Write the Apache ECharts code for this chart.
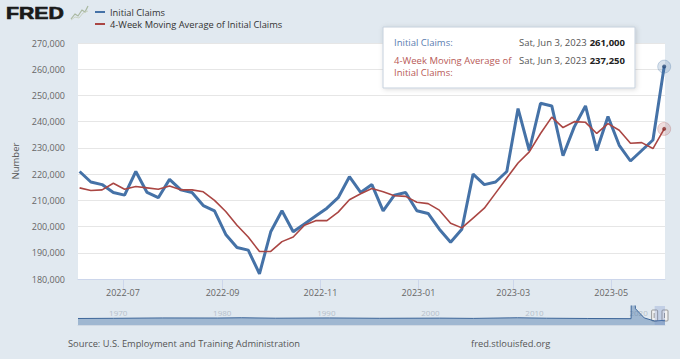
<!DOCTYPE html>
<html>
<head>
<meta charset="utf-8">
<script src="https://cdn.jsdelivr.net/npm/echarts@6/dist/echarts.min.js"></script>
<style>
html,body{margin:0;padding:0;background:#e1e9f0;}
#chart{width:680px;height:359px;}
</style>
</head>
<body>
<div id="chart"></div>
<script>
// ---- Data ----
const weekDates = ['2022-06-04','2022-06-11','2022-06-18','2022-06-25','2022-07-02','2022-07-09','2022-07-16','2022-07-23','2022-07-30',
'2022-08-06','2022-08-13','2022-08-20','2022-08-27','2022-09-03','2022-09-10','2022-09-17','2022-09-24','2022-10-01','2022-10-08',
'2022-10-15','2022-10-22','2022-10-29','2022-11-05','2022-11-12','2022-11-19','2022-11-26','2022-12-03','2022-12-10','2022-12-17',
'2022-12-24','2022-12-31','2023-01-07','2023-01-14','2023-01-21','2023-01-28','2023-02-04','2023-02-11','2023-02-18','2023-02-25',
'2023-03-04','2023-03-11','2023-03-18','2023-03-25','2023-04-01','2023-04-08','2023-04-15','2023-04-22','2023-04-29','2023-05-06',
'2023-05-13','2023-05-20','2023-05-27','2023-06-03'];
const initialClaims = [221000,217000,216000,213000,212000,221000,213000,211000,218000,214000,213000,208000,206000,197000,192000,191000,
182000,198000,206000,198000,201000,204000,207000,211000,219000,213000,216000,206000,212000,213000,206000,205000,199000,194000,199000,
220000,216000,217000,221000,245000,229000,247000,246000,227000,238000,246000,229000,242000,231000,225000,229000,233000,261000];
const movingAverage4Wk = [214750,213750,214000,216500,214250,215250,214750,214250,215500,214000,214000,213250,210000,205750,200500,196000,
190500,190500,194250,196000,200500,202250,202250,205500,210250,212500,214500,213250,211750,211500,209250,208750,206250,201250,199500,
203250,207000,212750,218500,224250,228500,235500,241750,237750,240000,239750,235500,239250,236750,231750,232000,229750,237250];
const monthTicks = ['2022-07-01','2022-09-01','2022-11-01','2023-01-01','2023-03-01','2023-05-01'];
const yTicks = [180000,190000,200000,210000,220000,230000,240000,250000,260000,270000];
// navigator (full history overview, thousands; read as a near-flat band with the 2020 spike)
const navDates = ['1967-01-07','1970-06-06','1975-03-01','1980-06-07','1982-10-02','1986-01-04','1991-03-02','1996-01-06','2001-10-06',
'2005-01-01','2009-03-28','2012-01-07','2016-01-02','2020-02-29','2020-03-28','2020-04-25','2020-08-01','2021-06-05','2022-06-04','2023-06-03'];
const navValues = [360,370,390,385,400,375,390,370,380,365,400,375,360,350,6137,3000,900,390,221,261];
const navYearTicks = ['1970-01-01','1980-01-01','1990-01-01','2000-01-01','2010-01-01','2020-01-01'];

const seriesNames = ['Initial Claims','4-Week Moving Average of Initial Claims'];
const FONT = '"Open Sans", sans-serif';

function utc(s){ const p = s.split('-').map(Number); return Date.UTC(p[0], p[1]-1, p[2]); }
function fmtNum(v){ return String(v).replace(/\B(?=(\d{3})+(?!\d))/g, ','); }
const DAYS = ['Sun','Mon','Tue','Wed','Thu','Fri','Sat'];
const MONTHS = ['Jan','Feb','Mar','Apr','May','Jun','Jul','Aug','Sep','Oct','Nov','Dec'];
function fmtDay(t){ const d = new Date(t); return DAYS[d.getUTCDay()] + ', ' + MONTHS[d.getUTCMonth()] + ' ' + d.getUTCDate() + ', ' + d.getUTCFullYear(); }

const xs = weekDates.map(utc);
const blueData = xs.map((t,i)=>[t, initialClaims[i]]);
const redData = xs.map((t,i)=>[t, movingAverage4Wk[i]]);
const last = xs.length - 1;
const navData = navDates.map((d,i)=>[utc(d), navValues[i]*1000]);

const xMin = xs[0] - 86400000;
const xMax = xs[last] + 43200000;

const chart = echarts.init(document.getElementById('chart'), null, {renderer:'svg'});
const option = {
  backgroundColor: '#e1e9f0',
  animation: false,
  textStyle: {fontFamily: FONT},
  legend: {
    data: seriesNames,
    orient: 'vertical',
    left: 95, top: 6,
    icon: 'rect', itemWidth: 10, itemHeight: 2, itemGap: 0,
    padding: 0,
    textStyle: {fontSize: 9.3, lineHeight: 12, color: '#333', fontFamily: FONT},
    selectedMode: false
  },
  grid: [
    {left: 78, right: 15, top: 43, height: 236, show: true, backgroundColor: '#ffffff', borderWidth: 0},
    {left: 78, right: 15, top: 306, height: 19, show: false}
  ],
  xAxis: [
    {
      type: 'value', gridIndex: 0, min: xMin, max: xMax, scale: true,
      axisLine: {show: true, lineStyle: {color: '#ccd6eb', width: 1}},
      axisTick: {show: true, customValues: monthTicks.map(utc), length: 10, lineStyle: {color: '#ccd6eb'}},
      axisLabel: {customValues: monthTicks.map(utc), color: '#666', fontSize: 9, margin: 9, fontFamily: FONT,
        formatter: v => { const d = new Date(v); return d.getUTCFullYear() + '-' + String(d.getUTCMonth()+1).padStart(2,'0'); }},
      splitLine: {show: false}
    },
    {
      type: 'value', gridIndex: 1, position: 'top', min: utc('1967-01-07'), max: xs[last], scale: true,
      axisLine: {show: true, lineStyle: {color: '#cfd8e3', width: 1}},
      axisTick: {show: false},
      axisLabel: {inside: true, customValues: navYearTicks.map(utc), color: '#b5bfca', fontSize: 8, margin: 2, align: 'left', fontFamily: FONT,
        formatter: v => String(new Date(v).getUTCFullYear())},
      splitLine: {show: false}
    }
  ],
  yAxis: [
    {
      type: 'value', gridIndex: 0, min: yTicks[0], max: yTicks[yTicks.length-1], interval: 10000,
      name: 'Number', nameLocation: 'middle', nameGap: 58, nameRotate: 90,
      nameTextStyle: {color: '#555', fontSize: 9.5, fontFamily: FONT},
      axisLine: {show: false}, axisTick: {show: false},
      axisLabel: {color: '#666', fontSize: 9, margin: 13, formatter: v => fmtNum(v), fontFamily: FONT},
      splitLine: {show: true, lineStyle: {color: '#e6e6e6', width: 1}}
    },
    {type: 'value', gridIndex: 1, min: 0, max: 1050000, show: false}
  ],
  series: [
    {
      name: seriesNames[0], type: 'line', data: blueData, xAxisIndex: 0, yAxisIndex: 0,
      color: '#4572A7', symbol: 'none', lineStyle: {width: 3, color: '#4572A7'}, silent: true, z: 3
    },
    {
      name: seriesNames[1], type: 'line', data: redData, xAxisIndex: 0, yAxisIndex: 0,
      color: '#AA4643', symbol: 'none', lineStyle: {width: 1.6, color: '#AA4643'}, silent: true, z: 4
    },
    {
      name: 'haloBlue', type: 'scatter', data: [blueData[last]], symbolSize: 13, silent: true, z: 5,
      itemStyle: {color: 'rgba(69,114,167,0.25)', borderColor: 'rgba(69,114,167,0.35)', borderWidth: 1}
    },
    {
      name: 'dotBlue', type: 'scatter', data: [blueData[last]], symbolSize: 4, silent: true, z: 6,
      itemStyle: {color: '#2c4d7c'}
    },
    {
      name: 'haloRed', type: 'scatter', data: [redData[last]], symbolSize: 13, silent: true, z: 5,
      itemStyle: {color: 'rgba(170,70,67,0.22)', borderColor: 'rgba(170,70,67,0.3)', borderWidth: 1}
    },
    {
      name: 'dotRed', type: 'scatter', data: [redData[last]], symbolSize: 4, silent: true, z: 6,
      itemStyle: {color: '#8a302d'}
    },
    {
      name: 'navigator', type: 'line', data: navData, xAxisIndex: 1, yAxisIndex: 1, symbol: 'none', silent: true,
      clip: true, lineStyle: {width: 1, color: '#3d6699'}, areaStyle: {color: 'rgba(69,114,167,0.6)'}
    }
  ]
};
chart.setOption(option);

// graphic decorations (logo, tooltip box, navigator window, footer)
const selStart = chart.convertToPixel({xAxisIndex: 1}, xs[0]);
const selEnd = chart.convertToPixel({xAxisIndex: 1}, xs[last]);
function handle(cx){
  return {type: 'group', z: 60, children: [
    {type: 'rect', shape: {x: cx-3, y: 310, width: 6, height: 11, r: 1}, style: {fill: '#f2f2f2', stroke: '#999', lineWidth: 1}},
    {type: 'line', shape: {x1: cx-0.5, y1: 313, x2: cx-0.5, y2: 318}, style: {stroke: '#999', lineWidth: 1}}
  ]};
}
chart.setOption({graphic: [
  {type: 'text', x: 6, y: 5, scaleX: 1.25, style: {text: 'FRED', font: 'bold 17px "Liberation Sans", Arial, sans-serif', fill: '#1a1a1a', stroke: '#1a1a1a', lineWidth: 0.7}},
  {type: 'group', children: [
    {type: 'polyline', shape: {points: [[71,19],[75,14],[78,16],[82,10],[85,12],[88,6]]}, style: {stroke: '#a9b8a0', lineWidth: 1.2, fill: 'none'}},
    {type: 'polyline', shape: {points: [[71,20],[75,17],[79,18],[83,13],[88,11]]}, style: {stroke: '#c9d3c4', lineWidth: 1, fill: 'none'}}
  ]},
  // tooltip box
  {type: 'rect', shape: {x: 383, y: 27, width: 252, height: 61}, z: 100,
    style: {fill: '#ffffff', stroke: '#c5d0dc', lineWidth: 1, shadowBlur: 5, shadowColor: 'rgba(0,0,0,0.15)', shadowOffsetX: 1, shadowOffsetY: 1}},
  {type: 'text', x: 394, y: 42, z: 101, style: {text: seriesNames[0] + ':', fill: '#5a7db0', fontSize: 9.5, fontFamily: FONT, verticalAlign: 'middle'}},
  {type: 'text', x: 394, y: 66, z: 101, style: {text: '4-Week Moving Average of\nInitial Claims:', fill: '#b85a57', fontSize: 9.5, lineHeight: 12, fontFamily: FONT, verticalAlign: 'middle'}},
  {type: 'text', x: 519, y: 42, z: 101, style: {text: '{d|' + fmtDay(xs[last]) + '} {v|' + fmtNum(initialClaims[last]) + '}', verticalAlign: 'middle', fontFamily: FONT,
    rich: {d: {fill: '#555', fontSize: 9.5, fontFamily: FONT}, v: {fill: '#222', fontSize: 9.5, fontWeight: 'bold', fontFamily: FONT}}}},
  {type: 'text', x: 519, y: 60, z: 101, style: {text: '{d|' + fmtDay(xs[last]) + '} {v|' + fmtNum(movingAverage4Wk[last]) + '}', verticalAlign: 'middle', fontFamily: FONT,
    rich: {d: {fill: '#555', fontSize: 9.5, fontFamily: FONT}, v: {fill: '#222', fontSize: 9.5, fontWeight: 'bold', fontFamily: FONT}}}},
  // navigator selected window
  {type: 'rect', shape: {x: selStart, y: 306, width: selEnd - selStart, height: 19}, style: {fill: 'rgba(102,133,194,0.25)'}, z: 50},
  handle(selStart),
  handle(selEnd),
  // footer
  {type: 'text', x: 68, y: 343, style: {text: 'Source: U.S. Employment and Training Administration', fill: '#555', fontSize: 9.3, fontFamily: FONT, verticalAlign: 'middle'}},
  {type: 'text', x: 471, y: 343, style: {text: 'fred.stlouisfed.org', fill: '#555', fontSize: 9.3, fontFamily: FONT, verticalAlign: 'middle'}}
]});
</script>
</body>
</html>
